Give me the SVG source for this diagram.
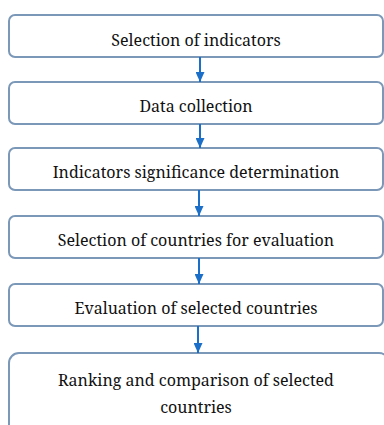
<svg xmlns="http://www.w3.org/2000/svg" width="384" height="425" viewBox="0 0 384 425">
  <style>
    .box { fill: #ffffff; stroke: #7b98b8; stroke-width: 2; }
    .lbl { font-family: "Noto Serif", "DejaVu Serif", serif; font-size: 16px; fill: #111111; text-anchor: middle; }
    .flow { stroke: #1b6fc8; stroke-width: 2; fill: none; }
  </style>
  <defs>
    <marker id="head" markerWidth="10" markerHeight="9" refX="10" refY="4.5" orient="auto" markerUnits="userSpaceOnUse">
      <path d="M0,0 L10,4.5 L0,9 Z" fill="#1b6fc8"/>
    </marker>
  </defs>
  <rect width="384" height="425" fill="#ffffff"/>

  <g id="n1">
    <rect class="box" x="9" y="15" width="374" height="42" rx="6"/>
    <text class="lbl" x="196" y="46">Selection of indicators</text>
  </g>
  <g id="n2">
    <rect class="box" x="9" y="82" width="374" height="42" rx="6"/>
    <text class="lbl" x="196" y="112">Data collection</text>
  </g>
  <g id="n3">
    <rect class="box" x="9" y="148" width="374" height="42" rx="6"/>
    <text class="lbl" x="196" y="178">Indicators significance determination</text>
  </g>
  <g id="n4">
    <rect class="box" x="9" y="216" width="374" height="42" rx="6"/>
    <text class="lbl" x="196" y="246">Selection of countries for evaluation</text>
  </g>
  <g id="n5">
    <rect class="box" x="9" y="284" width="374" height="42" rx="6"/>
    <text class="lbl" x="196" y="314">Evaluation of selected countries</text>
  </g>
  <g id="n6">
    <rect class="box" x="9" y="353" width="380" height="90" rx="10"/>
    <text class="lbl" x="196" y="386">Ranking and comparison of selected</text>
    <text class="lbl" x="196" y="413">countries</text>
  </g>

  <g id="connectors">
    <line class="flow" x1="200" y1="57" x2="200" y2="82" marker-end="url(#head)"/>
    <line class="flow" x1="200" y1="124" x2="200" y2="148" marker-end="url(#head)"/>
    <line class="flow" x1="199" y1="190" x2="199" y2="216" marker-end="url(#head)"/>
    <line class="flow" x1="199" y1="258" x2="199" y2="284" marker-end="url(#head)"/>
    <line class="flow" x1="198" y1="326" x2="198" y2="353" marker-end="url(#head)"/>
  </g>
</svg>
